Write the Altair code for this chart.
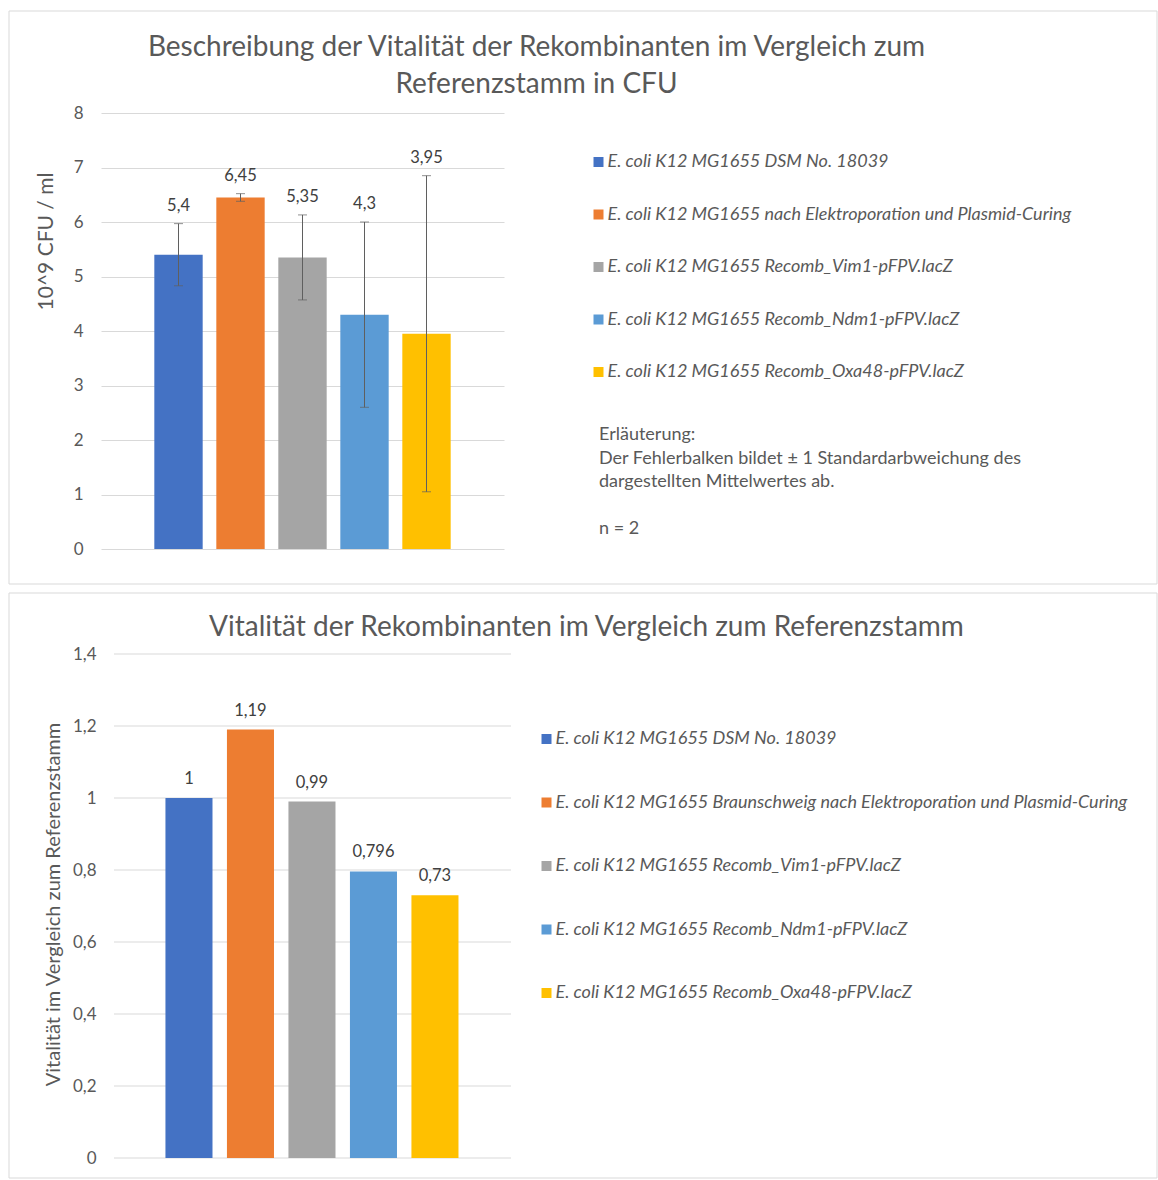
import altair as alt
import pandas as pd

# ---------------- data ----------------
strains_top = [
    "E. coli K12 MG1655 DSM No. 18039",
    "E. coli K12 MG1655 nach Elektroporation und Plasmid-Curing",
    "E. coli K12 MG1655 Recomb_Vim1-pFPV.lacZ",
    "E. coli K12 MG1655 Recomb_Ndm1-pFPV.lacZ",
    "E. coli K12 MG1655 Recomb_Oxa48-pFPV.lacZ",
]
strains_bottom = [
    "E. coli K12 MG1655 DSM No. 18039",
    "E. coli K12 MG1655 Braunschweig nach Elektroporation und Plasmid-Curing",
    "E. coli K12 MG1655 Recomb_Vim1-pFPV.lacZ",
    "E. coli K12 MG1655 Recomb_Ndm1-pFPV.lacZ",
    "E. coli K12 MG1655 Recomb_Oxa48-pFPV.lacZ",
]
cfu_mean = [5.4, 6.45, 5.35, 4.3, 3.95]
cfu_sd = [0.57, 0.07, 0.78, 1.7, 2.9]
relative_vitality = [1, 1.19, 0.99, 0.796, 0.73]
bar_colors = ["#4472C4", "#ED7D31", "#A5A5A5", "#5B9BD5", "#FFC000"]

top_title = ["Beschreibung der Vitalität der Rekombinanten im Vergleich zum",
             "Referenzstamm in CFU"]
bottom_title = "Vitalität der Rekombinanten im Vergleich zum Referenzstamm"
top_y_title = "10^9 CFU / ml"
bottom_y_title = "Vitalität im Vergleich zum Referenzstamm"
top_ticks = [0, 1, 2, 3, 4, 5, 6, 7, 8]
bottom_ticks = [0, 0.2, 0.4, 0.6, 0.8, 1.0, 1.2, 1.4]
notes = ["Erläuterung:",
         "Der Fehlerbalken bildet ± 1 Standardarbweichung des",
         "dargestellten Mittelwertes ab."]
sample_note = "n = 2"

FONT = "Lato"
GREY = "#595959"
GRID = "#d9d9d9"
ERR = "#5f5f5f"

top_df = pd.DataFrame({"strain": strains_top, "mean": cfu_mean, "sd": cfu_sd})
bottom_df = pd.DataFrame({"strain": strains_bottom, "value": relative_vitality})
bottom_grid_df = pd.DataFrame({"tick": bottom_ticks})
one = pd.DataFrame({"k": [0]})


def y_axis(values, title, title_x, title_y, pad, title_size, grid=True):
    return alt.Axis(values=values, title=title, grid=grid, gridColor=GRID, gridWidth=1,
                    ticks=False, domain=False, labelFontSize=17, labelColor=GREY,
                    labelFont=FONT, labelPadding=pad,
                    labelExpr="replace(format(datum.value, '~g'), '.', ',')",
                    titleFontSize=title_size, titleFontWeight="normal", titleColor=GREY,
                    titleFont=FONT, titleX=title_x, titleY=title_y,
                    titleAlign="center", titleBaseline="middle", titleAngle=270)


def legend(x, y, row_pad):
    return alt.Legend(title=None, orient="none", legendX=x, legendY=y, direction="vertical",
                      symbolType="square", symbolSize=100, symbolStrokeWidth=0,
                      labelFontSize=18, labelFontStyle="italic", labelColor=GREY,
                      labelFont=FONT, labelLimit=900, labelOffset=0, rowPadding=row_pad)


def text_line(txt, x, y, size, align="center"):
    return alt.Chart(one).mark_text(fontSize=size, color=GREY, font=FONT, align=align,
                                    baseline="middle", lineHeight=23.5).encode(
        x=alt.value(x), y=alt.value(y), text=alt.value(txt))


# ---------------- top chart ----------------
W1, H1 = 403, 436
x1 = alt.X("strain:N", sort=strains_top, axis=None,
           scale=alt.Scale(paddingInner=0.22, paddingOuter=0.86))
y1_scale = alt.Scale(domain=[0, 8], nice=False)
ax1 = y_axis(top_ticks, top_y_title, -55, 128, 18, 21)

base1 = alt.Chart(top_df).transform_calculate(
    lo="datum.mean - datum.sd", hi="datum.mean + datum.sd",
    lbl="replace(toString(datum.mean), '.', ',')")

bars1 = base1.mark_bar().encode(
    x=x1,
    y=alt.Y("mean:Q", scale=y1_scale, axis=ax1),
    color=alt.Color("strain:N", scale=alt.Scale(domain=strains_top, range=bar_colors),
                    legend=legend(488.5, 40, 34.5)),
)
err1 = base1.mark_rule(color=ERR, strokeWidth=1).encode(
    x=x1, y=alt.Y("lo:Q", scale=y1_scale, axis=ax1), y2="hi:Q")
cap_lo = base1.mark_tick(color=ERR, thickness=1, size=9).encode(
    x=x1, y=alt.Y("lo:Q", scale=y1_scale, axis=ax1))
cap_hi = base1.mark_tick(color=ERR, thickness=1, size=9).encode(
    x=x1, y=alt.Y("hi:Q", scale=y1_scale, axis=ax1))
labels1 = base1.mark_text(fontSize=16.5, color="#404040", font=FONT, baseline="middle",
                          dy=-18).encode(
    x=x1, y=alt.Y("hi:Q", scale=y1_scale, axis=ax1), text="lbl:N")

title1a = text_line(top_title[0], 435.5, -65, 28)
title1b = text_line(top_title[1], 435.5, -28, 28)
notes1 = text_line(notes, 498, 322, 18, align="left")
n1 = text_line(sample_note, 498, 416, 18, align="left")
frame1 = alt.Chart(one).mark_rect(fillOpacity=0, stroke=GRID, strokeWidth=1).encode(
    x=alt.value(-92), x2=alt.value(1056), y=alt.value(-102), y2=alt.value(471))

top = alt.layer(frame1, bars1, err1, cap_lo, cap_hi, labels1, title1a, title1b,
                notes1, n1).properties(width=W1, height=H1)

# ---------------- bottom chart ----------------
W2, H2 = 410, 504
x2 = alt.X("strain:N", sort=strains_bottom, axis=None,
           scale=alt.Scale(paddingInner=0.235, paddingOuter=0.951, align=0.551))
y2_scale = alt.Scale(domain=[0, 1.4], nice=False)
ax2 = y_axis(bottom_ticks, bottom_y_title, -48, 250, 5, 20, grid=False)

base2 = alt.Chart(bottom_df).transform_calculate(
    lbl="replace(toString(datum.value), '.', ',')")

grid2 = alt.Chart(bottom_grid_df).mark_rule(color=GRID, strokeWidth=1).encode(
    y=alt.Y("tick:Q", scale=y2_scale, axis=ax2), x=alt.value(13), x2=alt.value(410))
bars2 = base2.mark_bar().encode(
    x=x2,
    y=alt.Y("value:Q", scale=y2_scale, axis=ax2),
    color=alt.Color("strain:N", scale=alt.Scale(domain=strains_bottom, range=bar_colors),
                    legend=legend(436.5, 76, 45.5)),
)
labels2 = base2.mark_text(fontSize=16.5, color="#404040", font=FONT, baseline="middle",
                          dy=-19).encode(
    x=x2, y=alt.Y("value:Q", scale=y2_scale, axis=ax2), text="lbl:N")
title2 = text_line(bottom_title, 485.5, -26, 28)
frame2 = alt.Chart(one).mark_rect(fillOpacity=0, stroke=GRID, strokeWidth=1).encode(
    x=alt.value(-92), x2=alt.value(1056), y=alt.value(-61), y2=alt.value(524))

bottom = alt.layer(frame2, grid2, bars2, labels2, title2).properties(width=W2, height=H2)

chart = alt.vconcat(top, bottom, spacing=7).resolve_scale(
    color="independent", x="independent", y="independent"
).properties(
    padding={"left": 8, "top": 10, "right": 0, "bottom": 0}
).configure(font=FONT).configure_view(strokeWidth=0)

chart.save("out.html", embed_options={"renderer": "svg", "actions": False})
